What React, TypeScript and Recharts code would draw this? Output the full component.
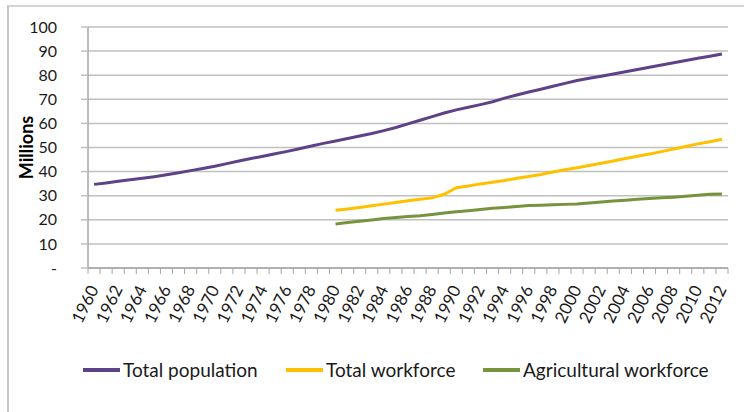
import React from "react";
import {
  LineChart,
  Line,
  XAxis,
  YAxis,
  CartesianGrid,
  Legend,
} from "recharts";

const years = [
  1960, 1961, 1962, 1963, 1964, 1965, 1966, 1967, 1968, 1969, 1970, 1971,
  1972, 1973, 1974, 1975, 1976, 1977, 1978, 1979, 1980, 1981, 1982, 1983,
  1984, 1985, 1986, 1987, 1988, 1989, 1990, 1991, 1992, 1993, 1994, 1995,
  1996, 1997, 1998, 1999, 2000, 2001, 2002, 2003, 2004, 2005, 2006, 2007,
  2008, 2009, 2010, 2011, 2012,
];

const totalPopulation = [
  34.7, 35.3, 36.0, 36.6, 37.2, 37.9, 38.7, 39.5, 40.4, 41.3, 42.2, 43.3,
  44.4, 45.4, 46.4, 47.4, 48.4, 49.5, 50.6, 51.7, 52.7, 53.7, 54.8, 55.8,
  57.0, 58.3, 59.8, 61.3, 62.8, 64.3, 65.6, 66.7, 67.8, 69.0, 70.5, 71.8,
  73.0, 74.2, 75.4, 76.6, 77.8, 78.7, 79.6, 80.5, 81.4, 82.4, 83.3, 84.2,
  85.2, 86.1, 87.0, 87.9, 88.8,
];

// no workforce data before 1980
const totalWorkforce = [
  null, null, null, null, null, null, null, null, null, null, null, null,
  null, null, null, null, null, null, null, null, 24.0, 24.5, 25.1, 25.8,
  26.5, 27.2, 27.9, 28.5, 29.1, 30.6, 33.3, 34.0, 34.9, 35.6, 36.3, 37.2,
  38.0, 38.8, 39.8, 40.8, 41.6, 42.5, 43.5, 44.4, 45.4, 46.4, 47.3, 48.3,
  49.4, 50.4, 51.5, 52.4, 53.4,
];

const agriculturalWorkforce = [
  null, null, null, null, null, null, null, null, null, null, null, null,
  null, null, null, null, null, null, null, null, 18.3, 18.9, 19.4, 19.9,
  20.5, 21.0, 21.4, 21.7, 22.2, 22.8, 23.3, 23.8, 24.3, 24.8, 25.1, 25.5,
  25.9, 26.0, 26.2, 26.4, 26.6, 27.0, 27.4, 27.8, 28.1, 28.5, 28.8, 29.1,
  29.4, 29.8, 30.2, 30.6, 30.7,
];

const seriesNames = ["Total population", "Total workforce", "Agricultural workforce"];

const yTicks = [0, 10, 20, 30, 40, 50, 60, 70, 80, 90, 100];

const data = years.map((year, i) => ({
  year: String(year),
  population: totalPopulation[i],
  workforce: totalWorkforce[i],
  agricultural: agriculturalWorkforce[i],
}));

const FONT = "Lato, 'Liberation Sans', sans-serif";
const AXIS_GREY = "#a6a6a6";

const YearTick = (props: any) => {
  const { x, y, payload } = props;
  const half = payload.offset || 0;
  const isLast = payload.index === years.length - 1;
  const showLabel = payload.index % 2 === 0;
  return (
    <g>
      <line x1={x - half} y1={y - 8} x2={x - half} y2={y - 2} stroke={AXIS_GREY} />
      {isLast && (
        <line x1={x + half} y1={y - 8} x2={x + half} y2={y - 2} stroke={AXIS_GREY} />
      )}
      {showLabel && (
        <text
          x={x + 5}
          y={y + 13}
          textAnchor="end"
          fontSize={17}
          fontFamily={FONT}
          fill="#1a1a1a"
          transform={`rotate(-64, ${x + 5}, ${y + 13})`}
        >
          {payload.value}
        </text>
      )}
    </g>
  );
};

const LegendContent = (props: any) => {
  const items = [...props.payload].sort(
    (a: any, b: any) => seriesNames.indexOf(a.value) - seriesNames.indexOf(b.value)
  );
  const gaps = [0, 203, 400];
  return (
    <div style={{ position: "relative", height: 22, fontFamily: FONT, fontSize: 19 }}>
      {items.map((entry: any, i: number) => (
        <div
          key={entry.value}
          style={{
            position: "absolute",
            left: gaps[i],
            top: 0,
            display: "flex",
            alignItems: "center",
            whiteSpace: "nowrap",
            color: "#1a1a1a",
          }}
        >
          <span
            style={{
              display: "inline-block",
              width: 37,
              height: 4,
              background: entry.color,
              marginRight: 3,
            }}
          />
          {entry.value}
        </div>
      ))}
    </div>
  );
};

export default function App() {
  return (
    <div
      style={{
        position: "absolute",
        left: 0,
        top: 0,
        width: 744,
        height: 412,
        background: "#fff",
        overflow: "hidden",
      }}
    >
      <div
        style={{
          position: "absolute",
          left: 7,
          top: 5,
          width: 760,
          height: 430,
          borderLeft: "2px solid #c8c8c8",
          borderTop: "2px solid #d4d4d4",
        }}
      />
      <LineChart
        width={744}
        height={412}
        data={data}
        margin={{ top: 27, right: 16, left: 0, bottom: 84 }}
      >
        <CartesianGrid vertical={false} stroke="#c0c0c0" strokeWidth={1.5} />
        <XAxis
          dataKey="year"
          scale="band"
          interval={0}
          height={60}
          tickLine={false}
          axisLine={{ stroke: AXIS_GREY, strokeWidth: 1.5 }}
          tick={<YearTick />}
        />
        <YAxis
          width={88}
          domain={[0, 100]}
          ticks={yTicks}
          interval={0}
          tickSize={7}
          tickMargin={24}
          tickFormatter={(v: number) => (v === 0 ? "-" : String(v))}
          tickLine={{ stroke: "#c0c0c0", strokeWidth: 1.5 }}
          axisLine={{ stroke: AXIS_GREY, strokeWidth: 1.5 }}
          tick={{ fontSize: 16, fontFamily: FONT, fill: "#1a1a1a" }}
          label={{
            value: "Millions",
            angle: -90,
            position: "center",
            dx: -17,
            style: { fontSize: 18, fontWeight: 700, fontFamily: FONT, fill: "#000" },
          }}
        />
        <Legend
          layout="horizontal"
          verticalAlign="middle"
          wrapperStyle={{ top: 358, left: 83, width: 650 }}
          content={<LegendContent />}
        />
        <Line
          type="linear"
          dataKey="population"
          name={seriesNames[0]}
          stroke="#5d4288"
          strokeWidth={3}
          dot={false}
          isAnimationActive={false}
        />
        <Line
          type="linear"
          dataKey="workforce"
          name={seriesNames[1]}
          stroke="#ffc000"
          strokeWidth={3}
          dot={false}
          isAnimationActive={false}
        />
        <Line
          type="linear"
          dataKey="agricultural"
          name={seriesNames[2]}
          stroke="#77933c"
          strokeWidth={3}
          dot={false}
          isAnimationActive={false}
        />
      </LineChart>
    </div>
  );
}
